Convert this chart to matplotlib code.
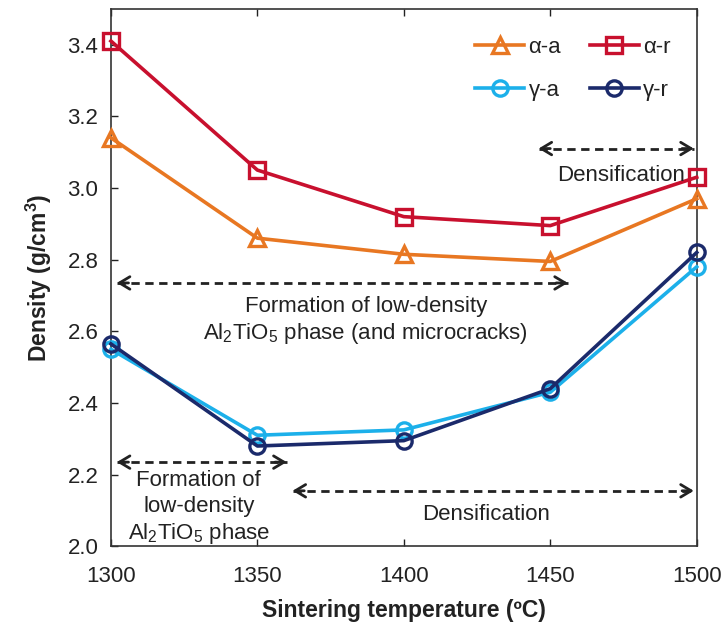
import matplotlib
matplotlib.use("Agg")
import matplotlib.pyplot as plt

plt.rcParams['font.family'] = ['Liberation Sans', 'DejaVu Sans']
plt.rcParams['mathtext.fontset'] = 'custom'
plt.rcParams['mathtext.rm'] = 'Liberation Sans'
plt.rcParams['mathtext.it'] = 'Liberation Sans'
plt.rcParams['mathtext.bf'] = 'Liberation Sans:bold'

# Sintering temperatures (°C) and measured densities (g/cm3)
temperature = [1300, 1350, 1400, 1450, 1500]
alpha_a = [3.14, 2.86, 2.815, 2.795, 2.97]
alpha_r = [3.41, 3.05, 2.92, 2.895, 3.03]
gamma_a = [2.55, 2.31, 2.325, 2.43, 2.78]
gamma_r = [2.565, 2.28, 2.295, 2.44, 2.82]

series_names = ['α-a', 'α-r', 'γ-a', 'γ-r']
x_ticks = [1300, 1350, 1400, 1450, 1500]
y_ticks = [2.0, 2.2, 2.4, 2.6, 2.8, 3.0, 3.2, 3.4]

fig = plt.figure(figsize=(7.25, 6.28), dpi=100)
ax = fig.add_axes([0.153, 0.13, 0.808, 0.856])

styles = [
    (alpha_a, '#E87722', '^'),
    (alpha_r, '#C8102E', 's'),
    (gamma_a, '#1CB0EA', 'o'),
    (gamma_r, '#1B2A6B', 'o'),
]
handles = []
for (vals, col, mk), name in zip(styles, series_names):
    h, = ax.plot(temperature, vals, color=col, lw=2.6, marker=mk,
                 markersize=11, markerfacecolor='none', markeredgecolor=col,
                 markeredgewidth=2.4, label=name, clip_on=False, zorder=3)
    handles.append(h)

ax.set_xlim(1300, 1500)
ax.set_ylim(2.0, 3.5)
ax.set_xticks(x_ticks)
ax.set_yticks(y_ticks)
ax.set_yticklabels([f'{v:.1f}' for v in y_ticks])
ax.tick_params(axis='both', direction='in', labelsize=16, length=5,
               width=1, colors='#222222', pad=9)
ax.tick_params(axis='x', top=True, pad=14)
for sp in ax.spines.values():
    sp.set_linewidth(1.2)
    sp.set_color('#333333')

ax.set_xlabel('Sintering temperature (ºC)', fontsize=16.5, fontweight='bold',
              labelpad=9, color='#222222')
ax.set_ylabel('Density (g/cm$^{\\mathbf{3}}$)', fontsize=16.5, fontweight='bold',
              labelpad=10, color='#222222')

# legend: two rows (α pair on top, γ pair below)
leg = ax.legend([handles[0], handles[2], handles[1], handles[3]],
                [series_names[0], series_names[2], series_names[1], series_names[3]],
                ncol=2, loc='upper right', frameon=False, fontsize=16,
                handlelength=2.2, handletextpad=0.2, columnspacing=1.3,
                labelspacing=1.0, bbox_to_anchor=(0.99, 0.985))
for t in leg.get_texts():
    t.set_color('#222222')


def dashed_double_arrow(x0, x1, y):
    ax.plot([x0, x1], [y, y], ls=(0, (3.0, 2.0)), lw=2.0, color='#222222',
            zorder=2)
    span = 4.0
    for a, b in ((x0 + span, x0), (x1 - span, x1)):
        ax.annotate('', xy=(b, y), xytext=(a, y),
                    arrowprops=dict(arrowstyle='->,head_length=0.75,head_width=0.45',
                                    lw=2.0, color='#222222',
                                    shrinkA=0, shrinkB=0))


txt_kw = dict(fontsize=16, color='#222222', ha='center', va='center')

dashed_double_arrow(1302, 1456, 2.735)
ax.text(1387, 2.67, 'Formation of low-density', **txt_kw)
ax.text(1387, 2.595, 'Al$_2$TiO$_5$ phase (and microcracks)', **txt_kw)

dashed_double_arrow(1446, 1499, 3.11)
ax.text(1474, 3.035, 'Densification', **txt_kw)

dashed_double_arrow(1302, 1360, 2.235)
ax.text(1330, 2.185, 'Formation of', **txt_kw)
ax.text(1330, 2.11, 'low-density', **txt_kw)
ax.text(1330, 2.037, 'Al$_2$TiO$_5$ phase', **txt_kw)

dashed_double_arrow(1362, 1499, 2.155)
ax.text(1428, 2.09, 'Densification', **txt_kw)

fig.savefig('out.png', dpi=100)
